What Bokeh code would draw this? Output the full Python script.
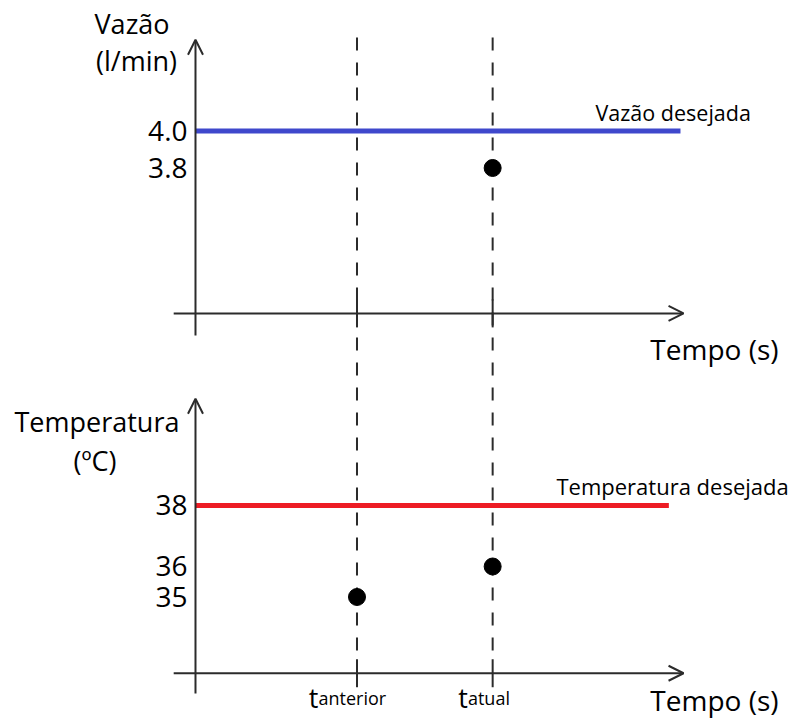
from math import pi
from bokeh.plotting import figure
from bokeh.models import Range1d, Arrow, OpenHead, ColumnDataSource
from bokeh.core.properties import value
from bokeh.embed import file_html
from bokeh.resources import INLINE

# ---------------- data ----------------
t_subscripts = ["anterior", "atual"]      # t_anterior, t_atual
t_values = [1.0, 1.84]                    # time positions of the two instants

flow_setpoint = 4.0
flow_ticks = [4.0, 3.8]
flow_tick_labels = ["4.0", "3.8"]
flow_point_t = [1.84]
flow_point_v = [3.8]

temp_setpoint = 38
temp_ticks = [38, 36, 35]
temp_tick_labels = ["38", "36", "35"]
temp_point_t = [1.0, 1.84]
temp_point_v = [35, 36]

# ---------------- layout (diagram geometry) ----------------
X_RANGE = (-1.2074, 3.709)
FLOW_RANGE = (0.8243, 4.7054)
TEMP_RANGE = (31.016, 54.557)

FLOW_AXIS_Y = 3.014      # level of the top time axis
FLOW_AXIS_TOP = 4.493
FLOW_AXIS_BOTTOM = 2.895
TEMP_AXIS_Y = 32.50      # level of the bottom time axis
TEMP_AXIS_TOP = 41.50
TEMP_AXIS_BOTTOM = 31.836
AXIS_X_START = -0.135
AXIS_X_END = 3.022
BLUE_END = 3.003
RED_END = 2.931
GUIDE_TOP = 53.344
GUIDE_BOTTOM = 33.082

FONT = value("Open Sans")
AX = "#2b2b2b"
BLUE = "#3F48CC"
RED = "#ED1C24"

p = figure(width=794, height=718, output_backend="svg", toolbar_location=None,
           x_range=Range1d(*X_RANGE), y_range=Range1d(*FLOW_RANGE),
           x_axis_location=None, y_axis_location=None, min_border=0,
           outline_line_color=None, background_fill_color="white",
           border_fill_color="white")
p.extra_y_ranges = {"temp": Range1d(*TEMP_RANGE)}
p.xgrid.visible = False
p.ygrid.visible = False

# dashed guide lines through both panels
p.segment(x0=t_values, x1=t_values, y0=[GUIDE_TOP] * len(t_values),
          y1=[GUIDE_BOTTOM] * len(t_values), y_range_name="temp",
          line_color=AX, line_width=2, line_dash="13 12")

# axes (arrows)
def axis_arrow(xs, ys, xe, ye, rng):
    a = Arrow(x_start=xs, y_start=ys, x_end=xe, y_end=ye,
              line_color=AX, line_width=2,
              end=OpenHead(size=15, line_color=AX, line_width=2))
    if rng:
        a.y_range_name = rng
    p.add_layout(a)

axis_arrow(0, FLOW_AXIS_BOTTOM, 0, FLOW_AXIS_TOP, None)
axis_arrow(AXIS_X_START, FLOW_AXIS_Y, AXIS_X_END, FLOW_AXIS_Y, None)
axis_arrow(0, TEMP_AXIS_BOTTOM, 0, TEMP_AXIS_TOP, "temp")
axis_arrow(AXIS_X_START, TEMP_AXIS_Y, AXIS_X_END, TEMP_AXIS_Y, "temp")

# tick marks at the two instants
p.scatter(x=t_values, y=[FLOW_AXIS_Y] * len(t_values), marker="dash",
          angle=pi / 2, size=28, line_color=AX, line_width=2)
p.scatter(x=t_values, y=[TEMP_AXIS_Y] * len(t_values), marker="dash",
          angle=pi / 2, size=28, line_color=AX, line_width=2,
          y_range_name="temp")

# setpoint lines
p.line(x=[0, BLUE_END], y=[flow_setpoint, flow_setpoint], line_color=BLUE,
       line_width=5)
p.line(x=[0, RED_END], y=[temp_setpoint, temp_setpoint], line_color=RED,
       line_width=5, y_range_name="temp")

# measured points
p.scatter(x=flow_point_t, y=flow_point_v, size=17, color="black")
p.scatter(x=temp_point_t, y=temp_point_v, size=17, color="black",
          y_range_name="temp")

# tick labels on the vertical axes
p.text(x=[0] * len(flow_ticks), y=flow_ticks, text=flow_tick_labels,
       x_offset=-8, text_align="right", text_baseline="middle",
       text_font=FONT, text_font_size="28px", text_color="black")
p.text(x=[0] * len(temp_ticks), y=temp_ticks, text=temp_tick_labels,
       x_offset=-8, text_align="right", text_baseline="middle",
       text_font=FONT, text_font_size="28px", text_color="black",
       y_range_name="temp")

# axis titles
p.text(x=[-0.393, -0.365], y=[4.581, 4.381], text=["Vazão", "(l/min)"],
       text_align="center", text_baseline="alphabetic", text_font=FONT,
       text_font_size="27px", text_color="black")
p.text(x=[-0.610, -0.622], y=[40.754, 39.476], text=["Temperatura", "(ºC)"],
       text_align="center", text_baseline="alphabetic", text_font=FONT,
       text_font_size="27px", text_color="black", y_range_name="temp")
p.text(x=[3.610], y=[2.819], text=["Tempo (s)"], text_align="right",
       text_baseline="alphabetic", text_font=FONT, text_font_size="28px",
       text_color="black")
p.text(x=[3.610], y=[31.62], text=["Tempo (s)"], text_align="right",
       text_baseline="alphabetic", text_font=FONT, text_font_size="28px",
       text_color="black", y_range_name="temp")

# setpoint captions
p.text(x=[2.477], y=[4.100], text=["Vazão desejada"], text_align="left",
       text_baseline="alphabetic", text_font=FONT, text_font_size="21.5px",
       text_color="black")
p.text(x=[2.235], y=[38.655], text=["Temperatura desejada"], text_align="left",
       text_baseline="alphabetic", text_font=FONT, text_font_size="22px",
       text_color="black", y_range_name="temp")

# time labels t_anterior, t_atual (t + subscript)
offs = [-(4.6 * len(s)) - 1.7 for s in t_subscripts]
lab_y = 31.70
tsrc = ColumnDataSource(dict(x=t_values, y=[lab_y] * len(t_values),
                             t=["t"] * len(t_values), sub=t_subscripts, off=offs))
p.text(x="x", y="y", text="t", x_offset="off", source=tsrc, text_align="right",
       text_baseline="alphabetic", text_font=FONT, text_font_size="27px",
       text_color="black", y_range_name="temp")
p.text(x="x", y="y", text="sub", x_offset="off", source=tsrc, text_align="left",
       text_baseline="alphabetic", text_font=FONT, text_font_size="18px",
       text_color="black", y_range_name="temp")

open("out.html", "w").write(file_html(p, INLINE))
